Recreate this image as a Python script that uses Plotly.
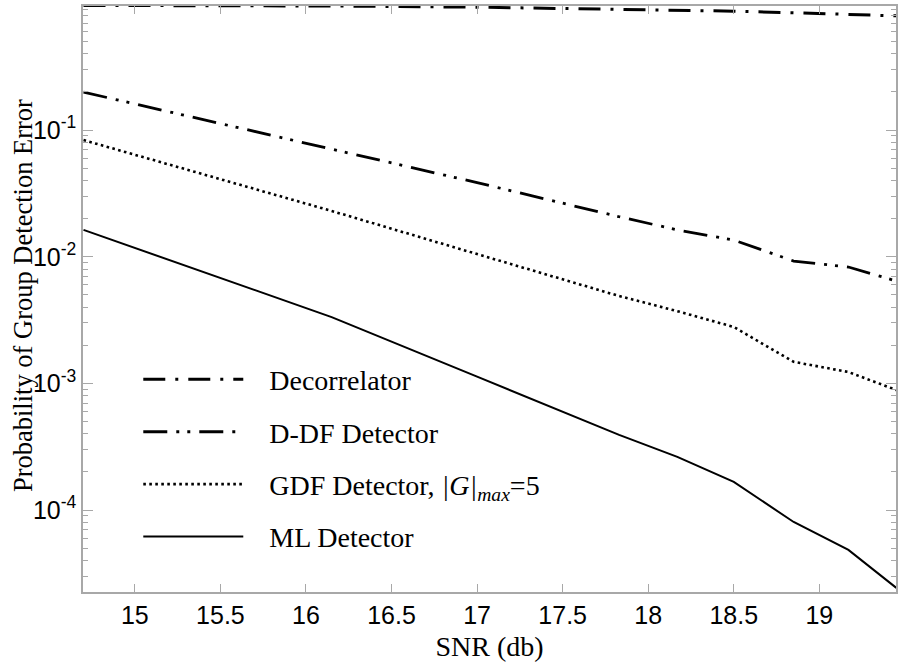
import plotly.graph_objects as go

snr = [14.70, 15.5, 16.15, 17.0, 17.83, 18.17, 18.5, 18.85, 19.17, 19.45]
decorrelator = [0.965, 0.962, 0.955, 0.935, 0.902, 0.885, 0.869, 0.845, 0.824, 0.798]
ddf = [0.1995, 0.112, 0.0708, 0.0385, 0.0207, 0.0163, 0.01355, 0.00925, 0.0083, 0.00643]
gdf = [0.0834, 0.0410, 0.0230, 0.0105, 0.0049, 0.00372, 0.00279, 0.00148, 0.00123, 0.000887]
ml = [0.0163, 0.00679, 0.00334, 0.00113, 0.000392, 0.000263, 0.0001667, 0.0000805, 0.0000484, 0.0000243]

names = ["Decorrelator", "D-DF Detector",
         "GDF Detector, <i>|G|</i><sub><i>max</i></sub>=5", "ML Detector"]

x_ticks = [15, 15.5, 16, 16.5, 17, 17.5, 18, 18.5, 19]
x_ticktext = ["15", "15.5", "16", "16.5", "17", "17.5", "18", "18.5", "19"]
y_ticks = [1e-4, 1e-3, 1e-2, 1e-1]
y_ticktext = ["10<sup>-4</sup>", "10<sup>-3</sup>", "10<sup>-2</sup>", "10<sup>-1</sup>"]

series = [decorrelator, ddf, gdf, ml]
styles = [
    dict(width=3, dash="22px,10px,3px,10px"),
    dict(width=2.8, dash="24px,9px,3px,8px,3px,9px"),
    dict(width=2.6, dash="2.6px,3.4px"),
    dict(width=2, dash="solid"),
]

serif = "Liberation Serif, Times New Roman, serif"
sans = "Liberation Sans, Arial, sans-serif"
pad = "\u00a0\u00a0\u00a0"

fig = go.Figure()
for i, (name, ys, st) in enumerate(zip(names, series, styles)):
    fig.add_trace(go.Scatter(
        x=snr, y=ys, mode="lines", name=pad + name, legendgroup=f"g{i}",
        line=dict(color="black", width=st["width"], dash=st["dash"]),
    ))

axis_line = "#a8a8a8"
fig.update_layout(
    width=899, height=665,
    margin=dict(l=83, r=1, t=6, b=73),
    paper_bgcolor="white", plot_bgcolor="white",
    showlegend=True,
    legend=dict(
        x=0.068, y=0.405, xanchor="left", yanchor="top",
        bgcolor="rgba(0,0,0,0)", borderwidth=0,
        font=dict(family=serif, size=28, color="black"),
        itemwidth=100, tracegroupgap=13, traceorder="grouped",
    ),
    xaxis=dict(
        range=[14.697, 19.448], tickvals=x_ticks, ticktext=x_ticktext,
        ticks="inside", ticklen=8, tickcolor=axis_line, tickwidth=1.2,
        showline=True, linecolor=axis_line, linewidth=1.5, mirror="allticks",
        showgrid=False, zeroline=False,
        tickfont=dict(family=sans, size=25, color="black"),
        title=dict(text="SNR (db)", standoff=9,
                   font=dict(family=serif, size=28, color="black")),
    ),
    yaxis=dict(
        type="log", range=[-4.647, -0.02], tickvals=y_ticks, ticktext=y_ticktext,
        ticks="inside", ticklen=10, tickcolor=axis_line, tickwidth=1.2,
        minor=dict(ticks="inside", ticklen=5, tickcolor=axis_line, dtick="D1", showgrid=False),
        showline=True, linecolor=axis_line, linewidth=1.5, mirror="allticks",
        showgrid=False, zeroline=False,
        tickfont=dict(family=sans, size=25, color="black"),
    ),
    annotations=[dict(
        text="Probability of Group Detection Error", textangle=-90,
        xref="paper", yref="paper", x=0, y=0.505, xanchor="center", yanchor="middle",
        xshift=-60, showarrow=False,
        font=dict(family=serif, size=26.5, color="black"),
    )],
)

fig.write_html("out.html")
